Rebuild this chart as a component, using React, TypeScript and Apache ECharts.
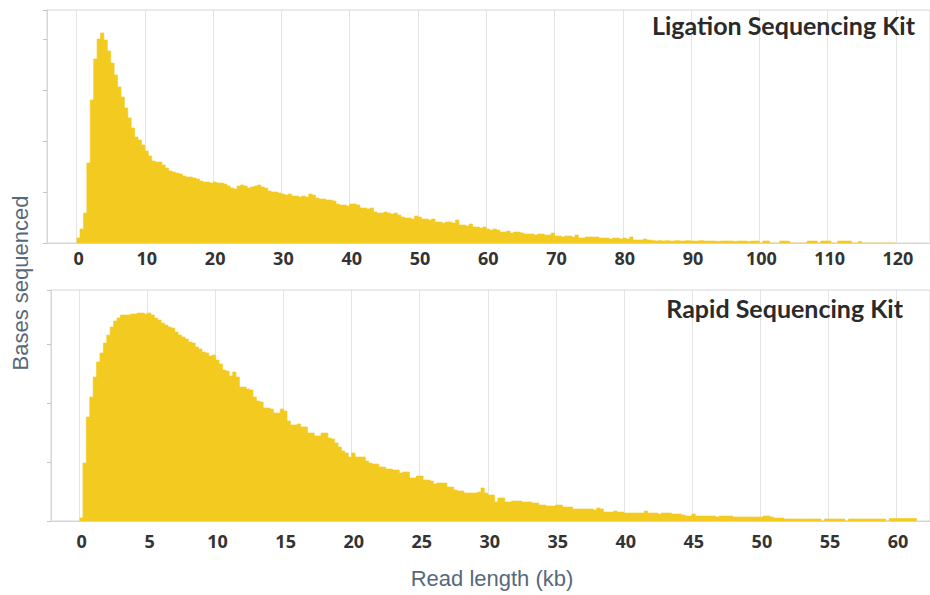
import React, { useEffect, useRef } from "react";
import * as echarts from "echarts";

// Ligation Sequencing Kit: bases sequenced per 0.5 kb read-length bin (bin starts at 0 kb)
const ligationBinKb = 0.5;
const ligationValues = [
  5, 14, 30, 80, 143, 184, 204, 210, 203, 192, 180, 168, 156, 146, 135, 125, 115, 106, 103, 98,
  92, 87, 82, 81, 81, 78, 75, 72, 71, 70, 69, 67, 66, 66, 65, 64, 62, 61, 61, 60,
  61, 60, 60, 59, 57, 55, 54, 57, 58, 57, 55, 56, 57, 58, 56, 55, 52, 51, 51, 50,
  49, 48, 49, 47, 47, 46, 47, 46, 49, 48, 45, 44, 44, 43, 43, 42, 39, 38, 38, 37,
  39, 39, 38, 35, 35, 34, 35, 31, 30, 30, 31, 30, 29, 30, 28, 26, 25, 25, 24, 27,
  26, 24, 24, 23, 24, 21, 21, 20, 21, 21, 20, 23, 18, 18, 17, 19, 16, 16, 15, 16,
  14, 13, 14, 13, 11, 11, 12, 10, 11, 11, 10, 9, 9, 9, 8, 9, 9, 8, 8, 10,
  7, 7, 6, 7, 7, 6, 8, 5, 5, 6, 6, 6, 6, 5, 5, 5, 4, 5, 5, 4,
  5, 4, 6, 3, 3, 3, 4, 3, 2.5, 2, 2.5, 2, 2.5, 2, 2, 2.5, 2, 2, 2.5, 2,
  2, 2, 2.5, 2, 2, 2, 2, 1.5, 2, 2, 2, 2, 1.5, 2, 2, 2, 1.5, 2, 2, 2,
  0, 2, 2, 0, 0, 0, 2, 2, 1.5, 0, 0, 0, 0, 0, 2, 2, 2, 0, 2, 2,
  2, 0, 0, 2, 2, 2, 2, 0, 0, 1.5, 0, 0, 0, 0, 0, 0, 0, 0, 0, 0,
];

// Rapid Sequencing Kit: bases sequenced per 0.25 kb read-length bin (bin starts at 0 kb)
const rapidBinKb = 0.25;
const rapidValues = [
  3, 58, 104, 124, 144, 159, 168, 178, 186, 194,
  200, 203, 206, 206, 206, 207, 207, 208, 208, 207,
  208, 206, 203, 201, 198, 196, 194, 193, 189, 186,
  184, 182, 179, 178, 174, 172, 169, 168, 165, 166,
  161, 157, 151, 150, 145, 149, 144, 134, 134, 132,
  131, 124, 120, 119, 113, 113, 112, 108, 108, 112,
  110, 100, 96, 96, 97, 94, 94, 88, 88, 85,
  85, 88, 88, 83, 82, 78, 74, 70, 68, 64,
  68, 64, 64, 64, 60, 58, 57, 57, 54, 54,
  52, 52, 51, 51, 48, 49, 49, 43, 43, 45,
  45, 41, 41, 40, 37, 38, 38, 38, 34, 34,
  31, 30, 30, 28, 28, 28, 28, 29, 33, 28,
  26, 26, 19, 23, 23, 19, 19, 20, 20, 20,
  19, 19, 19, 18, 18, 16, 16, 15, 15, 15,
  16, 16, 14, 14, 14, 12, 12, 12, 12, 12,
  12, 11, 13, 12, 9, 9, 9, 10, 9, 9,
  8, 8, 8, 8, 8, 8, 10, 8, 8, 8,
  7, 8, 8, 8, 7, 7, 7, 6, 5, 5,
  7, 5, 5, 5, 5, 5, 5, 4, 5, 5,
  5, 5, 4, 4, 4, 4, 4, 4, 4, 4,
  4, 5, 5, 4, 3, 3, 3, 2, 2, 2,
  2, 2, 2, 2, 2, 2, 2, 2, 0, 2,
  2, 2, 2, 2, 2, 0, 2, 2, 2, 2,
  2, 2, 2, 2, 2, 2, 2, 0, 2.5, 2.5,
  2.5, 2.5, 2.5, 2.5, 2.5, 2.5,
];

const ligationTicks = [0, 10, 20, 30, 40, 50, 60, 70, 80, 90, 100, 110, 120];
const rapidTicks = [0, 5, 10, 15, 20, 25, 30, 35, 40, 45, 50, 55, 60];
const panelTitles = ["Ligation Sequencing Kit", "Rapid Sequencing Kit"];
const yAxisTitle = "Bases sequenced";
const xAxisTitle = "Read length (kb)";

const BAR = "#F3CB20";
const GRID_LINE = "#e4e4e4";
const FRAME = "#d6d6d6";
const LABEL = "#333333";
const SLATE = "#56697c";

function toSteps(values: number[], bin: number): number[][] {
  const pts = values.map((v, i) => [i * bin, v]);
  pts.push([values.length * bin, 0]);
  return pts;
}

export default function App() {
  const ref = useRef<HTMLDivElement>(null);
  useEffect(() => {
    if (!ref.current) return;
    const chart = echarts.init(ref.current, null, { renderer: "svg" });
    const xLabel = (margin: number, ticks: number[]) => ({
      customValues: ticks,
      fontSize: 18,
      fontWeight: "bold",
      color: LABEL,
      fontFamily: "Open Sans",
      margin,
      padding: [0, 0, 0, 4],
    });
    const yAx = (gridIndex: number, max: number, interval: number) => ({
      type: "value",
      gridIndex,
      min: 0,
      max,
      interval,
      axisLine: { show: true, onZero: false, lineStyle: { color: FRAME } },
      axisTick: { show: true, length: 4, lineStyle: { color: "#c4c4c4" } },
      axisLabel: { show: false },
      splitLine: { show: false },
    });
    const series = (idx: number, values: number[], bin: number) => ({
      type: "line",
      xAxisIndex: idx,
      yAxisIndex: idx,
      data: toSteps(values, bin),
      step: "end",
      symbol: "none",
      silent: true,
      lineStyle: { width: 0.6, color: BAR },
      areaStyle: { color: BAR, opacity: 1 },
    });
    const titleStyle = { fontFamily: "Lato", fontWeight: "bold", fontSize: 25, color: "#2a2a2a" };
    chart.setOption({
      animation: false,
      backgroundColor: "#ffffff",
      title: [
        { text: panelTitles[0], right: 15, top: 12, padding: 0, textStyle: titleStyle },
        { text: panelTitles[1], right: 27, top: 295, padding: 0, textStyle: titleStyle },
      ],
      grid: [
        { left: 47, top: 10, width: 895, height: 233, show: true, borderColor: FRAME, borderWidth: 1 },
        { left: 51, top: 290, width: 893, height: 231, show: true, borderColor: FRAME, borderWidth: 1 },
      ],
      xAxis: [
        {
          type: "value",
          gridIndex: 0,
          min: -4.335,
          max: 125,
          axisLine: { show: true, onZero: false, lineStyle: { color: FRAME } },
          axisTick: { show: false, customValues: ligationTicks },
          axisLabel: xLabel(6, ligationTicks),
          splitLine: { show: true, lineStyle: { color: GRID_LINE, width: 1 } },
        },
        {
          type: "value",
          gridIndex: 1,
          min: -2.097,
          max: 62.5,
          axisLine: { show: true, onZero: false, lineStyle: { color: FRAME } },
          axisTick: { show: false, customValues: rapidTicks },
          axisLabel: xLabel(11, rapidTicks),
          splitLine: { show: true, lineStyle: { color: GRID_LINE, width: 1 } },
        },
      ],
      yAxis: [yAx(0, 233, 51), yAx(1, 231, 59)],
      series: [series(0, ligationValues, ligationBinKb), series(1, rapidValues, rapidBinKb)],
      graphic: [
        {
          type: "text",
          x: 20,
          y: 283,
          rotation: Math.PI / 2,
          style: {
            text: yAxisTitle,
            fill: SLATE,
            font: "22px 'Liberation Sans', Arial, sans-serif",
            align: "center",
            verticalAlign: "middle",
          },
        },
        {
          type: "text",
          x: 492,
          y: 578,
          style: {
            text: xAxisTitle,
            fill: SLATE,
            font: "22px 'Liberation Sans', Arial, sans-serif",
            align: "center",
            verticalAlign: "middle",
          },
        },
      ],
    });
    return () => chart.dispose();
  }, []);
  return (
    <div
      ref={ref}
      style={{ position: "absolute", left: 0, top: 0, width: 930, height: 595, overflow: "hidden" }}
    />
  );
}
